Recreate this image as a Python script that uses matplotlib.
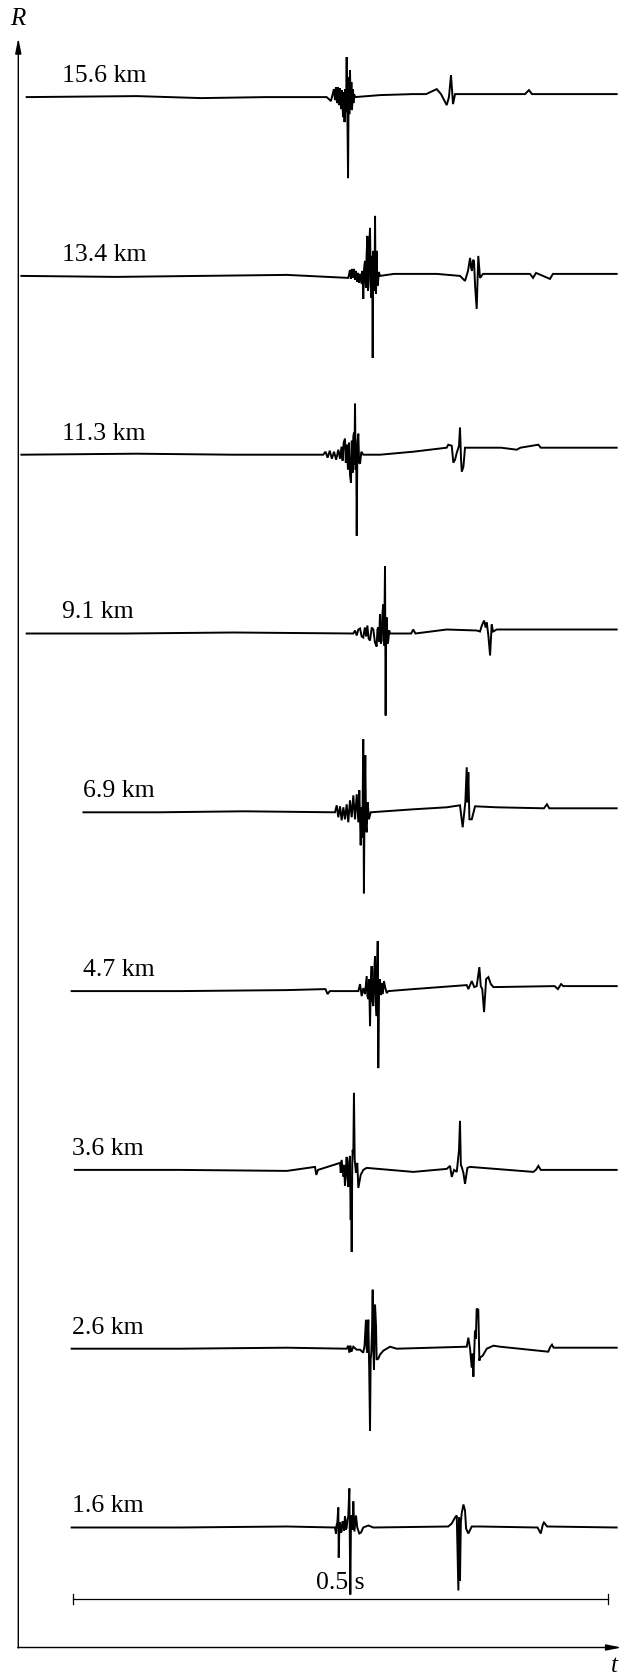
import matplotlib
matplotlib.use('Agg')
import matplotlib.pyplot as plt

plt.rcParams['font.family'] = ['Liberation Serif', 'DejaVu Serif']

# offsets of the receivers, bottom trace first
distances = ['1.6 km', '2.6 km', '3.6 km', '4.7 km', '6.9 km', '9.1 km', '11.3 km', '13.4 km', '15.6 km']

# picked points of each record: (time in ms, amplitude in arbitrary units)
trace_1_6 = [(-1, 0), (100, 0), (200, 1), (244.9, 0), (245.8, -6), (246.5, 3), (247.1, 5), (248, 20), (248.4, -30),
             (249, 2), (249.6, 5), (250.3, -5), (251.1, -4), (251.9, 6), (252.7, 4), (253.4, -3), (254.2, 11),
             (255, -2), (255.8, 0), (256.5, 8), (257.3, 11), (258.3, 39), (259.2, -67), (259.8, 3), (260.5, 12),
             (261.3, -2), (262, 26), (263, -4), (264.5, 12), (265.7, 0), (267.6, -6), (269.2, -5), (271.3, 0),
             (276, 2), (280.7, 0), (350.7, 1), (353.9, 4), (357, 10), (358.6, 12), (360.1, -63), (360.8, 10),
             (361.6, -53), (362.4, 5), (363.2, 14), (364.8, 23), (366.3, 17), (367.3, -1), (369.4, -6),
             (372.6, 1), (380.3, 1), (434, 0), (437, -6), (439, 3), (440, 5), (443, 1), (507.9, 0)]

trace_2_6 = [(-1, 0), (100, 0), (200, 1), (255.8, 0), (257.3, 3), (258.3, -4), (259.2, 3), (260.2, -3), (262, 2),
             (265.2, -1), (268.3, -1), (271.3, -4), (272.5, 3), (273.8, 29), (274.5, 0), (275.1, -4), (276, 29),
             (276.9, -24), (277.6, -82), (278.2, -10), (278.8, -4), (279.5, 20), (280.1, 59), (280.7, 0),
             (281.3, -21), (282.3, 44), (283.2, 23), (283.8, -11), (285.3, -10), (286.9, -6), (290, -2),
             (296.3, 2), (302.5, 0), (367.9, 2), (369.4, 11), (371, 0), (372.6, -19), (373.4, -5), (374.1, -28),
             (375.6, 18), (376.4, 10), (377.2, 40), (378.7, 39), (379.7, -12), (380.3, -9), (382.8, -7),
             (386.6, 0), (392.8, 3), (399, 2), (444, -3), (446, 2), (447.5, 4), (449, 1), (507.9, 1)]

trace_3_6 = [(2, 0), (100, 0), (200, -1), (226.2, 3), (227.5, -5), (229, 0), (249.6, 7), (250.3, -3), (251.1, 10),
             (252.7, -7), (253.4, 5), (254.2, -16), (255.8, 13), (256.5, -5), (257.3, -17), (258.1, 8),
             (258.9, 14), (259.3, -30), (259.6, -50), (260, -20), (260.5, -82), (261, 5), (261.4, 20), (262, 15),
             (262.6, 77), (263.3, 10), (264.5, -3), (265.7, 7), (266.7, -18), (268.9, -5), (271.3, 0),
             (274.5, 2), (318, -2), (349.2, 1), (352.3, 4), (353.9, -7), (356.1, 0), (358.6, -2), (360.7, 20),
             (361.6, 49), (362.4, 5), (363.2, 3), (364.8, -3), (366.3, -14), (368.5, 2), (371, 3), (430.1, -2),
             (432.5, 0), (434.8, 4), (437, 0), (507.9, 0)]

trace_4_7 = [(-1, 0), (100, 0), (200, 1), (236, 2), (238, -3), (240, 0), (266.7, 0), (268.3, 7), (269.8, -5),
             (271.3, 3), (272.9, -3), (274.5, 15), (275.2, -5), (276, -8), (276.8, 12), (277.6, -35), (278.4, 10),
             (279.1, 25), (279.9, -10), (280.7, -15), (281.5, 20), (282.3, 35), (283, -10), (283.8, -25),
             (284.3, 20), (284.8, 50), (285.3, -77), (286.1, 5), (286.9, 12), (287.7, -4), (288.5, 8),
             (289.5, -3), (290.6, 10), (291.9, 3), (293.2, -2), (294.7, 0), (318, 2), (343, 4), (367.9, 6),
             (369.4, 2), (372.6, 10), (375, 4), (377.2, 5), (379.7, 24), (381, 5), (382.4, 2), (384.1, -21),
             (386, 12), (388.1, 14), (390.4, 7), (392.8, 4), (450, 5), (453, 2), (456, 7), (458, 5), (507.9, 5)]

trace_6_9 = [(10, 0), (80, 0), (160, 1), (244.9, 0), (246.5, 7), (248, -5), (249.6, 6), (251.1, -8), (252.7, 5),
             (254.2, -7), (255.8, 8), (257.3, -10), (258.9, 12), (260.5, -5), (262, 17), (263.6, -7),
             (265.2, 18), (266.7, -10), (267.6, 22), (268.9, -33), (269.6, 5), (270.4, -25), (271.3, 73),
             (271.9, -81), (272.5, 10), (273.2, 57), (273.9, -15), (274.5, -20), (275.4, 10), (276.6, -7),
             (278.2, 0), (318, 3), (349.2, 5), (361.6, 7), (364.1, -15), (365.6, 0), (366.6, 10), (367.9, 45),
             (368.6, 10), (369.4, 40), (370.4, -7), (372.6, -7), (375.7, 6), (395.9, 5), (440, 4), (442.8, 8),
             (445, 4), (507.9, 4)]

trace_9_1 = [(-43, 0), (50, 0), (150, 1), (262, 0), (263.6, 3), (265.2, -2), (266.7, 4), (268.3, 5), (269.8, -3),
             (271.3, -4), (272.8, 6), (274, -3), (275.1, 8), (276.3, -5), (277.6, -7), (279.2, 6), (280.7, 4),
             (282.2, -9), (283.8, -13), (284.5, 4), (285.3, 6), (286.1, -8), (286.9, 19), (287.7, -10),
             (288.5, -7), (289.2, 20), (290, 29), (290.8, -12), (291.6, 67), (292.2, -82), (292.7, 12),
             (293.2, 16), (294, -10), (294.7, -7), (295.5, 3), (296.3, 0), (316, 0), (318, 4), (320, 0),
             (349.2, 4), (377.2, 3), (380.3, 2), (382, 8), (384.1, 13), (385.5, 6), (386.6, 11), (388.1, -2),
             (389.7, -22), (391.2, 9), (392.5, 2), (394.3, 3), (395.9, 4), (507.9, 4)]

trace_11_3 = [(-47.9, 0), (60, 1), (150, 0), (234, 0), (236, 3), (238, -3), (240, 4), (242, -4), (244, 3),
              (246, -5), (248, 5), (249.6, -4), (251, 8), (252, -6), (253, 12), (254.2, 16), (255, -8), (256, 10),
              (257, -15), (258, 12), (258.9, -20), (259.8, -28), (260.6, 14), (261.3, -18), (262, 18),
              (262.6, 22), (263, -10), (263.6, 51), (264.2, -15), (264.7, 10), (265.2, -81), (265.8, 12),
              (266.7, 21), (267.4, -8), (268.3, -9), (269.5, 3), (271.3, 0), (287, 0), (318, 3), (349.2, 7),
              (350.7, 10), (353.9, 9), (355.4, -8), (357, -5), (358.6, 2), (360.7, 9), (361.6, 27), (362.6, -5),
              (363.3, -17), (364.8, -12), (366.3, 7), (400, 7), (414.6, 5), (418, 7), (434.8, 10), (437, 7),
              (507.9, 7)]

trace_13_4 = [(-47.9, 0), (40, -1), (120, 0), (200, 1), (257.3, -2), (258.9, 6), (259.8, -3), (260.8, 7),
              (261.7, -2), (262.6, 7), (263.6, -4), (264.5, 5), (265.5, -6), (266.4, 3), (267.4, -7), (268.3, 2),
              (269.8, -8), (270.5, 5), (271.3, -23), (272.1, 8), (272.9, 15), (273.8, -12), (274.4, 20),
              (275.1, 40), (275.7, -15), (276.2, -10), (276.9, 30), (277.6, 48), (278.3, -5), (279, -22),
              (279.6, 20), (280.1, -82), (280.7, 25), (281.3, 10), (281.8, -15), (282.3, 60), (282.8, -12),
              (283.2, -18), (283.8, 25), (284.4, -10), (285, -8), (285.8, 4), (286.9, 0), (300, 2), (340, 2),
              (361.6, 0), (366.3, -5), (369.1, 5), (371, 18), (372, 8), (372.8, 5), (373.7, 16), (374.7, 15),
              (375.7, -10), (377.2, -33), (378.7, 20), (380.3, -2), (383.1, 2), (427, 2), (429.8, -2),
              (432.6, 3), (445.6, -3), (448.4, 2), (507.9, 2)]

trace_15_6 = [(-43, 0), (60, 1), (120, -1), (180, 0), (237.1, 0), (239.2, -2), (241.1, -4), (242.5, 2),
              (243.9, 8), (244.9, -3), (245.8, 10), (246.8, -6), (247.7, 10), (248.6, -8), (249.6, 9),
              (250.5, -12), (251.4, 7), (252.4, -20), (253.1, 5), (253.8, -25), (254.6, 8), (255.2, -15),
              (255.8, 40), (256.4, -10), (257.1, -81), (257.7, 20), (258.3, -17), (258.9, 27), (259.6, -12),
              (260.2, 15), (260.8, -13), (261.5, 8), (262.1, -6), (262.8, 3), (263.6, 0), (287, 2), (317.7, 3),
              (330, 3), (339.9, 8), (343.9, 3), (349.2, -8), (351.3, 0), (353.2, 22), (355.1, -7), (357.0, 3),
              (359.7, 3), (380, 3), (422.3, 3), (426.0, 7), (428.8, 3), (460, 3), (507.9, 3)]

traces = [trace_1_6, trace_2_6, trace_3_6, trace_4_7, trace_6_9, trace_9_1, trace_11_3, trace_13_4, trace_15_6]

# where the distance labels start (ms)
label_t = [-1, -1, -1, 9.6, 9.6, -10, -10, -10, -10]

scale_len = 500  # ms, the 0.5 s bar

# layout (one unit of height == one pixel)
base0 = 147.5
spacing = 178.8

fig = plt.figure(figsize=(6.37, 16.75), dpi=100)
ax = fig.add_axes([0, 0, 1, 1])
ax.set_xlim(-67.88, 526.88)
ax.set_ylim(0, 1675)
ax.axis('off')

for k, tr in enumerate(traces):
    base = base0 + k * spacing
    t = [p[0] for p in tr]
    a = [base + p[1] for p in tr]
    ax.plot(t, a, color='black', lw=1.4, solid_joinstyle='miter')
    ax.text(label_t[k], base + 15, distances[k], fontsize=18.5, ha='left', va='baseline')

# axes with arrows
ax.annotate('', xy=(-50.8, 1637), xytext=(-50.8, 27), annotation_clip=False,
            arrowprops=dict(arrowstyle='-|>,head_length=0.9,head_width=0.18', color='black', lw=1.0,
                            shrinkA=0, shrinkB=0))
ax.annotate('', xy=(512.5, 27.5), xytext=(-51.3, 27.5), annotation_clip=False,
            arrowprops=dict(arrowstyle='-|>,head_length=0.9,head_width=0.18', color='black', lw=1.0,
                            shrinkA=0, shrinkB=0))
ax.text(-51, 1656, 'R', fontsize=18, style='italic', ha='center', va='center')
ax.text(505.5, 3, 't', fontsize=18, style='italic', ha='center', va='baseline')

# 0.5 s scale bar
ax.plot([0, scale_len], [76, 76], color='black', lw=0.9)
ax.plot([0, 0], [71, 81], color='black', lw=0.9)
ax.plot([scale_len, scale_len], [71, 81], color='black', lw=0.9)
ax.text(scale_len / 2, 86, '0.5 s', fontsize=18.5, ha='center', va='baseline')

fig.savefig('out.png', dpi=100)
